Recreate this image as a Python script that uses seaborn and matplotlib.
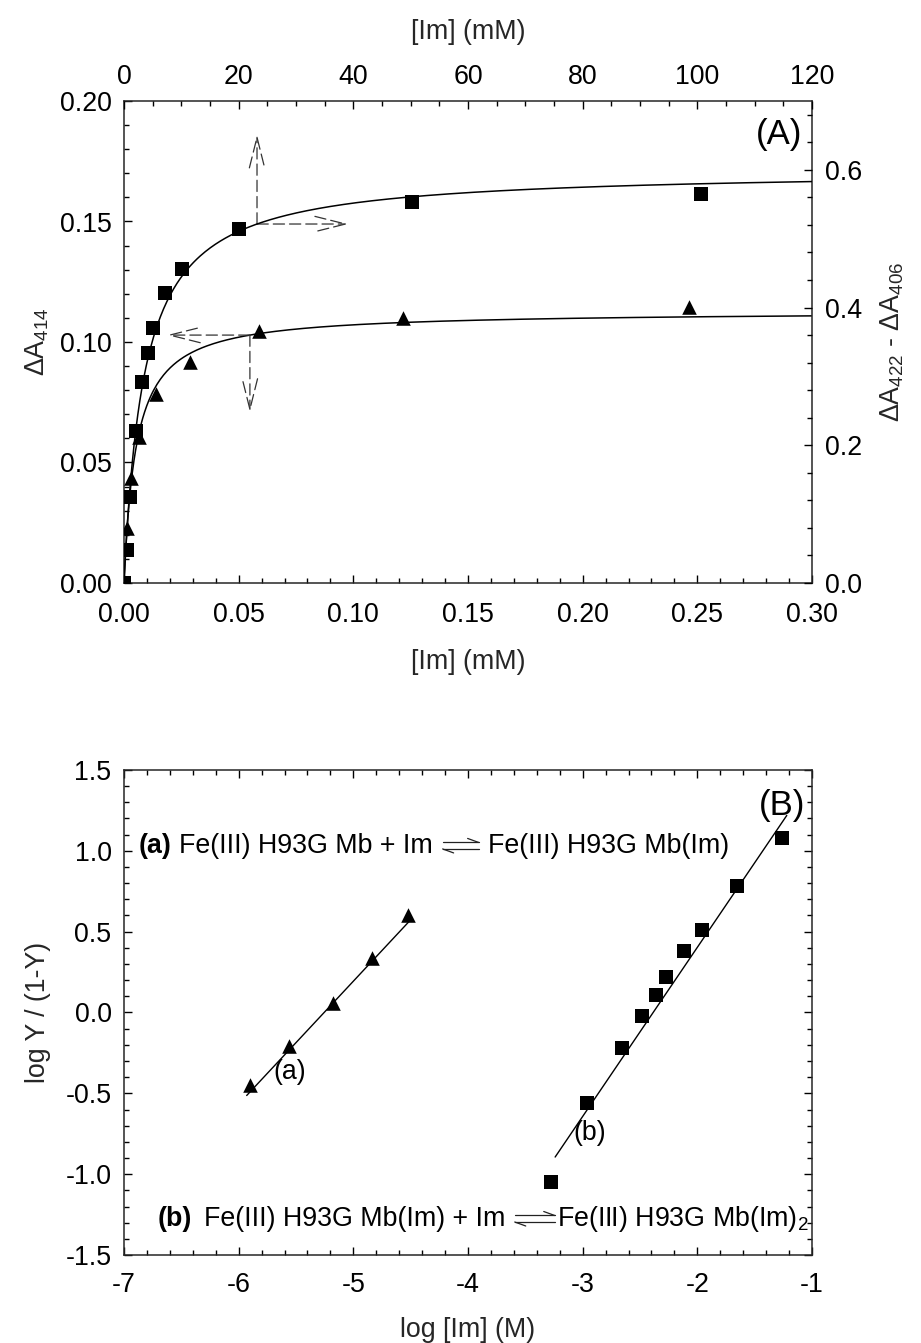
import numpy as np
import seaborn as sns
import matplotlib.pyplot as plt
from matplotlib.ticker import MultipleLocator, FormatStrFormatter
from matplotlib.patches import FancyArrowPatch
from matplotlib.lines import Line2D

# ---------------- Panel A: imidazole titration ----------------
# triangles: bottom axis [Im] (mM, 0-0.30) vs dA414 (left axis)
tri_conc_mM = [0.0013, 0.0031, 0.0065, 0.0140, 0.0288, 0.0589, 0.1217, 0.2465]
tri_dA414 = [0.0228, 0.0436, 0.0606, 0.0784, 0.0917, 0.1046, 0.1100, 0.1145]
# squares: top axis [Im] (mM, 0-120) vs dA422 - dA406 (right axis)
sq_conc_mM = [0.0, 0.5, 1.0, 2.1, 3.1, 4.2, 5.1, 7.2, 10.1, 20.1, 50.2, 100.6]
sq_dA = [0.0, 0.048, 0.125, 0.221, 0.292, 0.334, 0.370, 0.421, 0.456, 0.514, 0.553, 0.565]

# single-site binding fits, y = ymax * x / (kd + x)
tri_ymax, tri_kd = 0.1128, 0.0053
sq_ymax, sq_kd = 0.600, 3.5

# ---------------- Panel B: Hill plots ----------------
hill_a_logIm = [-5.90, -5.56, -5.18, -4.84, -4.52]
hill_a_logY = [-0.45, -0.21, 0.06, 0.34, 0.60]
hill_b_logIm = [-3.28, -2.96, -2.66, -2.48, -2.36, -2.27, -2.12, -1.96, -1.65, -1.26]
hill_b_logY = [-1.05, -0.56, -0.22, -0.02, 0.11, 0.22, 0.38, 0.51, 0.78, 1.08]
# linear fits: (slope, intercept, x start, x end)
hill_a_fit = (0.76, 0.059 + 0.76 * 5.177, -5.93, -4.50)
hill_b_fit = (1.046, -0.894 + 1.046 * 3.24, -3.24, -1.22)


def binding(x, ymax, kd):
    x = np.asarray(x, dtype=float)
    return ymax * x / (kd + x)


sns.set_style('ticks')
plt.rcParams['font.family'] = ['Liberation Sans', 'DejaVu Sans']
plt.rcParams['mathtext.fontset'] = 'custom'
plt.rcParams['mathtext.rm'] = 'Liberation Sans'
plt.rcParams['mathtext.it'] = 'Liberation Sans:italic'
plt.rcParams['mathtext.default'] = 'regular'
plt.rcParams['axes.linewidth'] = 1.1
plt.rcParams['text.color'] = 'black'

FS = 19.3
DPI = 100
W, H = 921, 1343
fig = plt.figure(figsize=(W / DPI, H / DPI), dpi=DPI)
fig.patch.set_facecolor('white')

rectA = [124 / W, 1 - 583 / H, 688 / W, 482 / H]
rectB = [124 / W, 1 - 1255 / H, 688 / W, 485 / H]
axA = fig.add_axes(rectA)
axS = fig.add_axes(rectA, frameon=False)
axB = fig.add_axes(rectB)


def style_ticks(ax, **kw):
    ax.tick_params(which='both', direction='in', width=1.0, colors='black',
                   labelsize=FS, **kw)
    ax.tick_params(which='major', length=6)
    ax.tick_params(which='minor', length=3.5)


# ---- Panel A, triangles on bottom/left axes ----
xt = np.concatenate([np.linspace(0, 0.01, 200), np.linspace(0.01, 0.30, 400)])
sns.lineplot(x=xt, y=binding(xt, tri_ymax, tri_kd), color='black', lw=1.1,
             ax=axA, sort=False)
sns.scatterplot(x=tri_conc_mM, y=tri_dA414, marker='^', s=110, color='black',
                linewidth=0, ax=axA, zorder=3)
axA.set_xlim(0, 0.30)
axA.set_ylim(0, 0.20)
axA.xaxis.set_major_locator(MultipleLocator(0.05))
axA.xaxis.set_minor_locator(MultipleLocator(0.01))
axA.yaxis.set_major_locator(MultipleLocator(0.05))
axA.yaxis.set_minor_locator(MultipleLocator(0.01))
axA.xaxis.set_major_formatter(FormatStrFormatter('%.2f'))
axA.yaxis.set_major_formatter(FormatStrFormatter('%.2f'))
style_ticks(axA, top=False, right=False)
axA.tick_params(axis='x', pad=14)
axA.tick_params(axis='y', pad=9)
axA.set_xlabel('[Im] (mM)', fontsize=FS, labelpad=15)
axA.set_ylabel(r'$\Delta$A$_{414}$', fontsize=FS, labelpad=6)

# ---- Panel A, squares on top/right axes ----
xs = np.concatenate([np.linspace(0, 4, 200), np.linspace(4, 120, 400)])
sns.lineplot(x=xs, y=binding(xs, sq_ymax, sq_kd), color='black', lw=1.1,
             ax=axS, sort=False)
sns.scatterplot(x=sq_conc_mM, y=sq_dA, marker='s', s=95, color='black',
                linewidth=0, ax=axS, zorder=3)
axS.set_xlim(0, 120)
axS.set_ylim(0, 0.70)
axS.patch.set_visible(False)
axS.xaxis.tick_top()
axS.yaxis.tick_right()
axS.xaxis.set_label_position('top')
axS.yaxis.set_label_position('right')
axS.xaxis.set_major_locator(MultipleLocator(20))
axS.xaxis.set_minor_locator(MultipleLocator(5))
axS.yaxis.set_major_locator(MultipleLocator(0.2))
axS.yaxis.set_minor_locator(MultipleLocator(0.04))
axS.yaxis.set_major_formatter(FormatStrFormatter('%.1f'))
style_ticks(axS, top=True, right=True, bottom=False, left=False,
            labeltop=True, labelright=True, labelbottom=False, labelleft=False)
axS.tick_params(axis='x', pad=8)
axS.tick_params(axis='y', pad=9)
axS.set_xlabel('[Im] (mM)', fontsize=FS, labelpad=18)
axS.set_ylabel(r'$\Delta$A$_{422}$ - $\Delta$A$_{406}$', fontsize=FS, labelpad=12)

# dashed arrows showing which axes each curve belongs to
arrow_kw = dict(arrowstyle='->,head_length=2.2,head_width=0.55', mutation_scale=10,
                lw=0.9, color='#333333', linestyle=(0, (9, 4)), shrinkA=0, shrinkB=0,
                zorder=4)
sq_x0 = 0.058
sq_y0 = binding(sq_x0 / 0.30 * 120, sq_ymax, sq_kd) / 0.70 * 0.20
for end in [(sq_x0, 0.186), (0.0977, sq_y0)]:
    axA.add_patch(FancyArrowPatch((sq_x0, sq_y0), end, **arrow_kw))
tri_x0 = 0.0549
tri_y0 = float(binding(tri_x0, tri_ymax, tri_kd))
for end in [(0.0188, tri_y0), (tri_x0, 0.0710)]:
    axA.add_patch(FancyArrowPatch((tri_x0, tri_y0), end, **arrow_kw))

axA.text(0.986, 0.965, '(A)', transform=axA.transAxes, ha='right', va='top',
         fontsize=25)

# ---------------- Panel B ----------------
for (slope, icpt, x0, x1) in [hill_a_fit, hill_b_fit]:
    xl = np.array([x0, x1])
    sns.lineplot(x=xl, y=slope * xl + icpt, color='black', lw=1.0, ax=axB)
sns.scatterplot(x=hill_a_logIm, y=hill_a_logY, marker='^', s=110, color='black',
                linewidth=0, ax=axB, zorder=3)
sns.scatterplot(x=hill_b_logIm, y=hill_b_logY, marker='s', s=95, color='black',
                linewidth=0, ax=axB, zorder=3)
axB.set_xlim(-7, -1)
axB.set_ylim(-1.5, 1.5)
axB.xaxis.set_major_locator(MultipleLocator(1))
axB.xaxis.set_minor_locator(MultipleLocator(0.2))
axB.yaxis.set_major_locator(MultipleLocator(0.5))
axB.yaxis.set_minor_locator(MultipleLocator(0.1))
axB.xaxis.set_major_formatter(FormatStrFormatter('%d'))
axB.yaxis.set_major_formatter(FormatStrFormatter('%.1f'))
style_ticks(axB, top=True, right=True)
axB.tick_params(axis='x', pad=12)
axB.tick_params(axis='y', pad=9)
axB.set_xlabel('log [Im] (M)', fontsize=FS, labelpad=14)
axB.set_ylabel('log Y / (1-Y)', fontsize=FS, labelpad=10)

axB.text(-5.553, -0.368, '(a)', ha='center', va='center', fontsize=FS)
axB.text(-2.936, -0.745, '(b)', ha='center', va='center', fontsize=FS)
axB.text(0.99, 0.96, '(B)', transform=axB.transAxes, ha='right', va='top',
         fontsize=25)


def chem_equation(ax, x0, y0, tag, lhs, rhs, tag_gap, arrow_len, gap_l, gap_r):
    """Lay out 'tag lhs <=> rhs' on one baseline, with drawn harpoon arrows."""
    fig.canvas.draw()
    r = fig.canvas.get_renderer()
    inv = ax.transAxes.inverted()
    base = ax.transAxes.transform((x0, y0))[1]
    kw = dict(transform=ax.transAxes, fontsize=FS, ha='left', va='baseline')
    t = ax.text(x0, y0, tag, fontweight='bold', **kw)
    x = t.get_window_extent(r).x1 + tag_gap
    t = ax.text(*inv.transform((x, base)), lhs, **kw)
    x = t.get_window_extent(r).x1 + gap_l
    hi, lo, barb, bh = 10.5, 4.0, 11.0, 4.0
    segs = [
        [(x, base + hi), (x + arrow_len, base + hi)],
        [(x + arrow_len, base + hi), (x + arrow_len - barb, base + hi + bh)],
        [(x, base + lo), (x + arrow_len, base + lo)],
        [(x, base + lo), (x + barb, base + lo - bh)],
    ]
    for seg in segs:
        pts = inv.transform(seg)
        ax.add_line(Line2D(pts[:, 0], pts[:, 1], transform=ax.transAxes,
                           color='#222222', lw=0.9, clip_on=False))
    x = x + arrow_len + gap_r
    ax.text(*inv.transform((x, base)), rhs, **kw)


chem_equation(axB, 0.0218, 0.829, '(a)', 'Fe(III) H93G Mb + Im',
              'Fe(III) H93G Mb(Im)', tag_gap=7, arrow_len=36, gap_l=10, gap_r=9)
chem_equation(axB, 0.0494, 0.0598, '(b)', 'Fe(III) H93G Mb(Im) + Im',
              r'Fe(III) H93G Mb(Im)$_2$', tag_gap=12, arrow_len=40, gap_l=9, gap_r=2)

fig.savefig('out.png', dpi=DPI, facecolor='white')
